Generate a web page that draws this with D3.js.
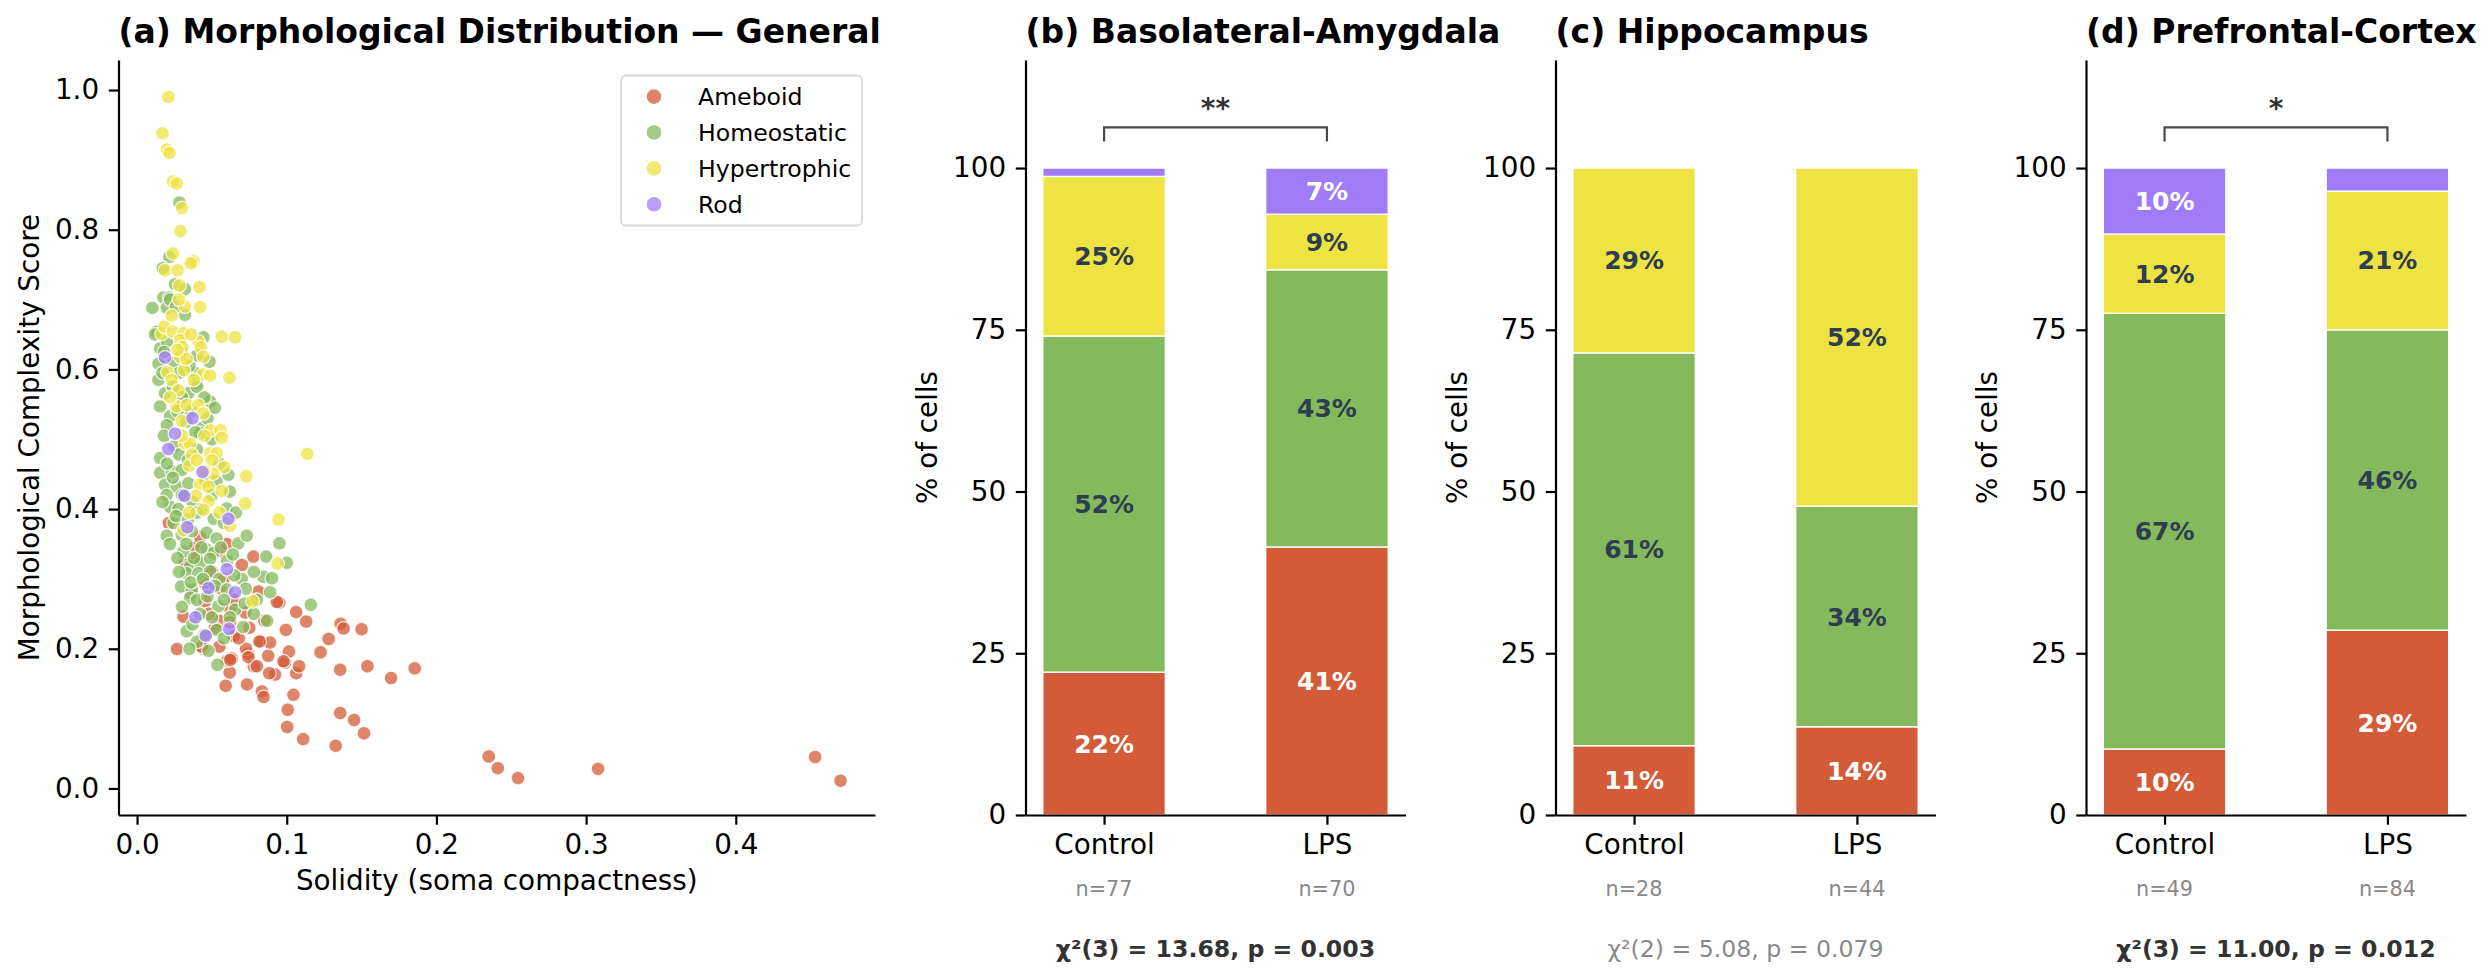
<!DOCTYPE html>
<html><head><meta charset="utf-8">
<script src="https://cdn.jsdelivr.net/npm/d3@7"></script>
<style>body{margin:0;background:#fff} svg{display:block} text{font-family:"DejaVu Sans",sans-serif}</style>
</head><body><svg id="c" width="2490" height="980"></svg>
<script>
// ---------- DATA ----------
const categories = ["Ameboid","Homeostatic","Hypertrophic","Rod"];
const catColors = ["#d35b37","#84b95c","#efe343","#a07cf9"];

// scatter: [solidity, complexity]
const ameboidPts = [
[0.235,0.0458],[0.241,0.029],[0.2545,0.0149],[0.308,0.028],[0.453,0.045],[0.470,0.011],
[0.1357,0.108],[0.1327,0.061],[0.111,0.0707],[0.1516,0.079],[0.145,0.098],[0.1003,0.088],[0.1007,0.1127],[0.1045,0.134],
[0.1697,0.158],[0.1855,0.172],[0.1539,0.175],[0.1357,0.170],[0.1226,0.195],[0.128,0.214],[0.113,0.239],[0.150,0.228],
[0.136,0.236],[0.138,0.229],[0.1063,0.2525],[0.095,0.266],[0.0267,0.1996],[0.0592,0.147],[0.0735,0.149],[0.0834,0.139],
[0.0845,0.131],[0.0619,0.166],[0.0922,0.163],[0.0883,0.165],[0.1063,0.165],[0.1082,0.175],[0.0988,0.180],[0.1015,0.196],
[0.0876,0.190],[0.0743,0.193],[0.0602,0.183],[0.0633,0.186],[0.078,0.175],[0.0826,0.210],[0.0888,0.209],[0.0728,0.200],[0.0441,0.2],
[0.0212,0.380],[0.0388,0.345],[0.0555,0.340],[0.0777,0.332],[0.032,0.323],[0.0555,0.287],[0.0811,0.282],[0.0934,0.267],
[0.0455,0.268],[0.062,0.258],[0.0722,0.252],[0.031,0.246],[0.055,0.240],[0.0621,0.238],[0.0994,0.227],[0.0646,0.218],
[0.0432,0.203],[0.055,0.203],[0.0818,0.2105],[0.0622,0.184],[0.0744,0.188],[0.080,0.175],[0.0978,0.182],
[0.040,0.330],[0.050,0.310],[0.045,0.295],[0.058,0.300],[0.065,0.270],[0.036,0.280],[0.052,0.230],[0.068,0.215],
[0.075,0.230],[0.042,0.360],[0.060,0.350],[0.085,0.240],[0.070,0.320],[0.048,0.250]
];
const homeostaticPts = [
[0.0283,0.839],[0.0216,0.761],[0.0172,0.745],[0.0254,0.722],[0.0176,0.703],[0.0216,0.703],[0.0102,0.688],[0.0199,0.688],
[0.032,0.678],[0.0132,0.654],[0.0443,0.646],[0.0154,0.630],[0.0484,0.611],[0.0143,0.608],[0.0388,0.595],[0.0143,0.585],
[0.0399,0.580],[0.0187,0.566],[0.0343,0.566],[0.0154,0.547],[0.0488,0.554],[0.0221,0.533],[0.0435,0.516],
[0.0154,0.473],[0.0421,0.509],[0.0154,0.452],[0.0232,0.454],[0.0299,0.456],[0.061,0.449],[0.0187,0.435],[0.0265,0.432],
[0.0343,0.437],[0.0198,0.420],[0.0221,0.403],[0.0276,0.400],[0.0512,0.386],[0.0599,0.401],[0.0244,0.380],[0.0198,0.362],
[0.0299,0.363],[0.0366,0.368],[0.0465,0.366],[0.0532,0.358],[0.0677,0.351],[0.0733,0.362],[0.0951,0.351],[0.031,0.339],
[0.0465,0.342],[0.051,0.337],[0.0863,0.332],[0.0354,0.318],[0.0421,0.323],[0.0488,0.329],[0.0602,0.326],[0.1,0.323],
[0.0332,0.308],[0.041,0.308],[0.0488,0.311],[0.055,0.300],[0.0699,0.300],[0.0844,0.303],[0.0901,0.301],[0.0294,0.289],
[0.0366,0.285],[0.0727,0.286],[0.0889,0.281],[0.1161,0.263],[0.0354,0.273],[0.0544,0.261],[0.0655,0.256],[0.0869,0.240],
[0.0332,0.225],[0.0532,0.227],[0.037,0.235],[0.0709,0.231],[0.058,0.215],[0.0477,0.197],[0.0537,0.177],
[0.012,0.650],[0.020,0.640],[0.025,0.610],[0.030,0.625],[0.035,0.605],[0.018,0.625],[0.040,0.620],[0.028,0.595],
[0.022,0.700],[0.026,0.690],[0.032,0.715],
[0.017,0.595],[0.024,0.575],[0.030,0.560],[0.036,0.540],[0.040,0.575],[0.045,0.560],[0.020,0.520],[0.027,0.540],
[0.033,0.525],[0.039,0.510],[0.047,0.530],[0.052,0.545],[0.018,0.505],[0.025,0.490],[0.050,0.500],
[0.020,0.465],[0.028,0.478],[0.034,0.470],[0.040,0.485],[0.046,0.440],[0.053,0.440],[0.024,0.445],[0.030,0.420],
[0.037,0.410],[0.043,0.400],[0.050,0.420],[0.055,0.465],[0.062,0.425],[0.017,0.410],[0.026,0.390],[0.034,0.385],
[0.040,0.395],[0.058,0.380],[0.066,0.395],
[0.022,0.350],[0.027,0.330],[0.033,0.350],[0.038,0.330],[0.043,0.345],[0.056,0.345],[0.064,0.335],[0.028,0.310],
[0.036,0.295],[0.044,0.300],[0.052,0.290],[0.060,0.285],[0.065,0.305],[0.078,0.310],[0.040,0.270],[0.047,0.275],
[0.058,0.270],[0.072,0.265],[0.080,0.270],[0.030,0.260],[0.042,0.250],[0.050,0.245],[0.062,0.245],[0.078,0.250],
[0.045,0.220],[0.040,0.210],[0.035,0.200]
];
const hypertrophicPts = [
[0.021,0.990],[0.017,0.938],[0.020,0.915],[0.0216,0.910],[0.024,0.869],[0.0265,0.866],[0.030,0.831],[0.029,0.798],
[0.024,0.766],[0.0376,0.755],[0.036,0.752],[0.0187,0.742],[0.027,0.742],[0.0283,0.720],[0.0417,0.718],[0.032,0.690],
[0.0421,0.689],[0.0232,0.677],[0.0165,0.651],[0.0183,0.661],[0.0239,0.654],[0.031,0.652],[0.0288,0.642],[0.041,0.640],
[0.0566,0.647],[0.0655,0.646],[0.0303,0.632],[0.0426,0.632],[0.0288,0.618],[0.0443,0.618],[0.0203,0.596],[0.0314,0.599],
[0.0443,0.593],[0.0488,0.591],[0.0617,0.588],[0.0232,0.585],[0.0276,0.570],[0.0265,0.547],[0.0332,0.549],[0.041,0.549],
[0.0443,0.537],[0.0299,0.526],[0.0492,0.513],[0.0557,0.513],
[0.0566,0.502],[0.0321,0.494],[0.0354,0.494],[0.0366,0.478],[0.0488,0.480],[0.0532,0.480],[0.1138,0.479],[0.0582,0.460],
[0.0508,0.451],[0.0729,0.447],[0.0421,0.435],[0.0477,0.432],[0.0566,0.426],[0.0394,0.419],[0.0477,0.411],[0.0722,0.408],
[0.0443,0.399],[0.0622,0.376],[0.0945,0.385],[0.0938,0.322],[0.0773,0.268],
[0.035,0.462],[0.040,0.470],[0.030,0.505],[0.045,0.505],[0.038,0.585],[0.033,0.615],[0.027,0.628],[0.050,0.470],
[0.045,0.455],[0.035,0.395],[0.031,0.370],[0.055,0.395],[0.028,0.700],[0.036,0.650],[0.022,0.560]
];
const rodPts = [
[0.0187,0.617],[0.037,0.530],[0.0254,0.508],[0.0209,0.486],[0.0437,0.453],[0.0316,0.419],[0.061,0.386],[0.0336,0.374],
[0.06,0.314],[0.0477,0.287],[0.0655,0.281],[0.039,0.245],[0.0615,0.2286],[0.0459,0.2186]
];
const scatterXTicks = [0,0.1,0.2,0.3,0.4];
const scatterYTicks = [0,0.2,0.4,0.6,0.8,1.0];

// bar panels
const regionTitles = ["(b) Basolateral-Amygdala","(c) Hippocampus","(d) Prefrontal-Cortex"];
const groups = ["Control","LPS"];
// counts per category [Ameboid, Homeostatic, Hypertrophic, Rod]
const countsControl = [[17,40,19,1],[3,17,8,0],[5,33,6,5]];
const countsLPS = [[29,30,6,5],[6,15,23,0],[24,39,18,3]];
const chiTexts = ["χ²(3) = 13.68, p = 0.003","χ²(2) = 5.08, p = 0.079","χ²(3) = 11.00, p = 0.012"];
const chiSignificant = [true,false,true];
const sigStars = ["**","","*"];
const barYTicks = [0,25,50,75,100];

// ---------- DRAW ----------
const svg = d3.select("#c");
const FT = 27.8, LW = 2.2, TL = 9.7, TP = 9.7;
const TOP = 60, BOT = 815;

function styleAxis(g){
  g.attr("font-family",null).attr("font-size",null);
  g.selectAll("path.domain").attr("stroke","#000").attr("stroke-width",LW);
  g.selectAll(".tick line").attr("stroke","#000").attr("stroke-width",LW);
  g.selectAll(".tick text").attr("fill","#000").style("font-size",FT+"px").style("font-family","DejaVu Sans");
}

// Panel (a)
const A = {l:118.5, r:875};
const xS = d3.scaleLinear().domain([-0.0124,0.493]).range([A.l,A.r]);
const yS = d3.scaleLinear().domain([-0.038,1.043]).range([BOT,TOP]);

const allSets = [ameboidPts, homeostaticPts, hypertrophicPts, rodPts];
allSets.forEach((pts,ci)=>{
  svg.append("g").selectAll("circle").data(pts).join("circle")
    .attr("cx",d=>xS(d[0])).attr("cy",d=>yS(d[1])).attr("r",6.9)
    .attr("fill",catColors[ci]).attr("fill-opacity",0.75)
    .attr("stroke","#fff").attr("stroke-width",1.3).attr("stroke-opacity",0.8);
});

const gxA = svg.append("g").attr("transform",`translate(0,${BOT})`)
  .call(d3.axisBottom(xS).tickValues(scatterXTicks).tickFormat(d3.format(".1f")).tickSize(TL).tickSizeOuter(0).tickPadding(TP));
styleAxis(gxA);
const gyA = svg.append("g").attr("transform",`translate(${A.l},0)`)
  .call(d3.axisLeft(yS).tickValues(scatterYTicks).tickFormat(d3.format(".1f")).tickSize(TL).tickSizeOuter(0).tickPadding(TP));
styleAxis(gyA);

svg.append("text").attr("x",A.l).attr("y",43).attr("font-weight","bold").style("font-size","33px")
  .text("(a) Morphological Distribution — General");
svg.append("text").attr("x",(A.l+A.r)/2).attr("y",890).attr("text-anchor","middle").style("font-size",FT+"px")
  .text("Solidity (soma compactness)");
svg.append("text").attr("transform",`translate(39,${(TOP+BOT)/2}) rotate(-90)`).attr("text-anchor","middle").style("font-size",FT+"px")
  .text("Morphological Complexity Score");

// legend
const lg = svg.append("g");
lg.append("rect").attr("x",621).attr("y",75.5).attr("width",241).attr("height",150).attr("rx",5)
  .attr("fill","#fff").attr("fill-opacity",0.8).attr("stroke","#d9d9d9").attr("stroke-width",1.8);
categories.forEach((c,i)=>{
  const y = 96.6 + i*35.9;
  lg.append("circle").attr("cx",654).attr("cy",y).attr("r",7.3).attr("fill",catColors[i]).attr("fill-opacity",0.75);
  lg.append("text").attr("x",698).attr("y",y).attr("dy","0.36em").style("font-size","23.6px").text(c);
});

// Bar panels
const lefts = [1025.5,1555.5,2086];
const W = 380, BW = 0.55;
regionTitles.forEach((title,ri)=>{
  const L = lefts[ri];
  const xB = d3.scaleLinear().domain([-0.3525,1.3525]).range([L,L+W]);
  const yB = d3.scaleLinear().domain([0,116.7]).range([BOT,TOP]);
  const g = svg.append("g");
  [countsControl[ri], countsLPS[ri]].forEach((counts,gi)=>{
    const n = d3.sum(counts);
    let cum = 0;
    counts.forEach((c,ci)=>{
      const pct = c/n*100;
      if (pct<=0) return;
      const y0 = cum, y1 = cum+pct; cum = y1;
      g.append("rect").attr("x",xB(gi-BW/2)).attr("width",xB(BW/2)-xB(-BW/2))
        .attr("y",yB(y1)).attr("height",yB(y0)-yB(y1))
        .attr("fill",catColors[ci]).attr("stroke","#fff").attr("stroke-width",1.4);
      if (pct>=5){
        g.append("text").attr("x",xB(gi)).attr("y",yB((y0+y1)/2)).attr("dy","0.36em")
          .attr("text-anchor","middle").attr("font-weight","bold").style("font-size","25px")
          .attr("fill",(ci===0||ci===3)?"#fff":"#2c3e50").text(Math.round(pct)+"%");
      }
    });
    g.append("text").attr("x",xB(gi)).attr("y",896).attr("text-anchor","middle")
      .style("font-size","20.8px").attr("fill","#888").text("n="+n);
  });
  const gx = g.append("g").attr("transform",`translate(0,${BOT})`)
    .call(d3.axisBottom(xB).tickValues([0,1]).tickFormat(i=>groups[i]).tickSize(TL).tickSizeOuter(0).tickPadding(TP));
  styleAxis(gx);
  const gy = g.append("g").attr("transform",`translate(${L},0)`)
    .call(d3.axisLeft(yB).tickValues(barYTicks).tickFormat(d3.format("d")).tickSize(TL).tickSizeOuter(0).tickPadding(TP));
  styleAxis(gy);
  g.append("text").attr("x",L).attr("y",43).attr("font-weight","bold").style("font-size","33px").text(title);
  g.append("text").attr("transform",`translate(${L-89},${(TOP+BOT)/2}) rotate(-90)`).attr("text-anchor","middle")
    .style("font-size",FT+"px").text("% of cells");
  g.append("text").attr("x",L+W/2).attr("y",957).attr("text-anchor","middle").style("font-size","23.6px")
    .attr("font-weight",chiSignificant[ri]?"bold":"normal").attr("fill",chiSignificant[ri]?"#333":"#888")
    .text(chiTexts[ri]);
  if (sigStars[ri]){
    g.append("path").attr("d",`M${xB(0)},${yB(104.1)}V${yB(106.3)}H${xB(1)}V${yB(104.1)}`)
      .attr("fill","none").attr("stroke","#4a4a4a").attr("stroke-width",2.2);
    g.append("text").attr("x",xB(0.5)).attr("y",yB(106.3)-9.5).attr("text-anchor","middle")
      .attr("font-weight","bold").style("font-size","28px").attr("fill","#333").text(sigStars[ri]);
  }
});
</script></body></html>
